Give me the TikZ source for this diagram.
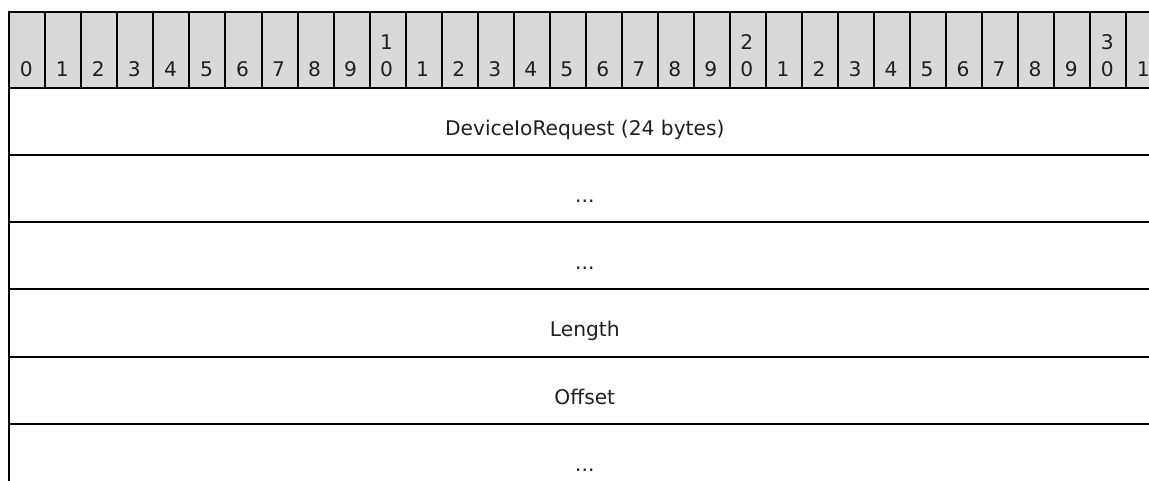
\documentclass[tikz,border=0pt]{standalone}
\usepackage{fontspec}
\setmainfont{DejaVu Sans}
\definecolor{hdr}{HTML}{D9D9D9}
\newcommand{\fielddots}{...}
\begin{document}
\begin{tikzpicture}[x=1pt,y=-1pt,
  cell/.style={draw=black,line width=2pt,fill=hdr,minimum width=36.03pt,minimum height=75.7pt,inner sep=0pt,anchor=north west},
  fieldrow/.style={draw=black,line width=2pt,minimum width=1153pt,minimum height=67.2pt,inner sep=0pt,anchor=north west},
  lbl/.style={font=\fontsize{20.2}{27.4}\selectfont,anchor=base,inner sep=0pt,text=black!88}]
\useasboundingbox (0,0) rectangle (1149,481);
\clip (0,0) rectangle (1149,481);
% header cells
\foreach \i in {0,...,31} {
  \node[cell] (h\i) at ({8.3+36.03*\i},11) {};
  \pgfmathtruncatemacro{\ones}{mod(\i,10)}
  \node[lbl] (d\i) at ({8.3+36.03*(\i+0.5)},76.5) {\ones};
}
\foreach \i/\t in {10/1,20/2,30/3} {
  \node[lbl] (t\i) at ({8.3+36.03*(\i+0.5)},49.3) {\t};
}
% field rows
\foreach \k/\txt in {0/DeviceIoRequest (24 bytes),1/\fielddots,2/\fielddots,3/Length,4/Offset,5/\fielddots} {
  \node[fieldrow] (r\k) at (8.3,{86.7+67.2*\k}) {};
  \node[lbl] (l\k) at (584.8,{86.7+67.2*\k+48.5}) {\txt};
}
\end{tikzpicture}
\end{document}
